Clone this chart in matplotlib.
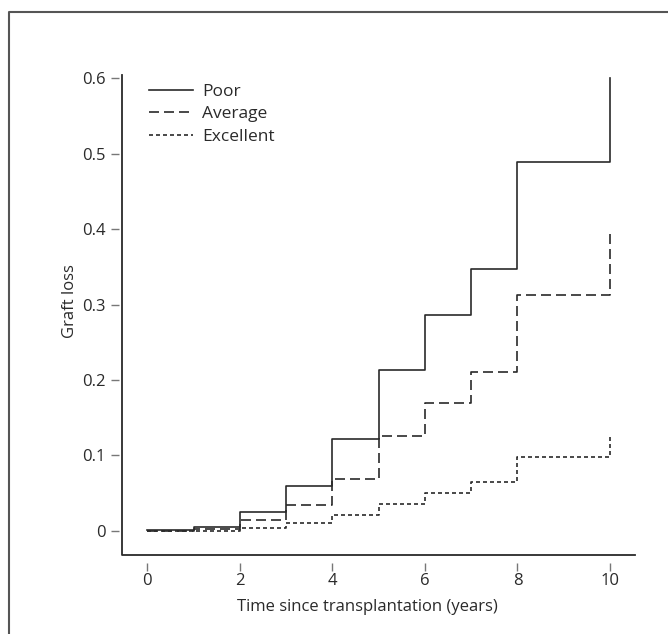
import matplotlib
matplotlib.use('Agg')
import matplotlib.pyplot as plt
from matplotlib.lines import Line2D

# Cumulative graft loss at the start of each yearly interval (step function)
years = [0, 1, 2, 3, 4, 5, 6, 7, 8, 10]
poor = [0.001, 0.005, 0.025, 0.060, 0.122, 0.213, 0.286, 0.347, 0.489, 0.600]
average = [0.000, 0.002, 0.014, 0.034, 0.069, 0.126, 0.170, 0.211, 0.312, 0.400]
excellent = [0.000, 0.000, 0.004, 0.010, 0.021, 0.036, 0.050, 0.065, 0.098, 0.124]
labels = ['Poor', 'Average', 'Excellent']
x_ticks = [0, 2, 4, 6, 8, 10]
y_ticks = [0, 0.1, 0.2, 0.3, 0.4, 0.5, 0.6]

plt.rcParams['font.family'] = ['Open Sans', 'DejaVu Sans']
ink = '#2a2a2a'
tick_grey = '#777777'
fs = 12

fig = plt.figure(figsize=(6.68, 6.34), dpi=100)
ax = fig.add_axes([122 / 668, 79 / 634, 513 / 668, 480 / 634])

lw = 1.2
styles = ['-', (0, (6.0, 3.0)), (0, (2.4, 1.8))]
for vals, lab, ls in zip([poor, average, excellent], labels, styles):
    ax.step(years, vals, where='post', color=ink, lw=lw, linestyle=ls, label=lab)

ax.set_xlim(-0.547, 10.54)
ax.set_ylim(-0.0318, 0.604)
ax.set_xticks(x_ticks)
ax.set_xticklabels([str(t) for t in x_ticks])
ax.set_yticks(y_ticks)
ax.set_yticklabels(['0'] + [f'{t:.1f}' for t in y_ticks[1:]])

# L-shaped box, ticks hang detached from it
for s in ['top', 'right', 'left', 'bottom']:
    ax.spines[s].set_visible(False)
ax.spines['left'].set_position(('outward', 2.5))
ax.spines['bottom'].set_position(('outward', 6))
ax.add_line(Line2D([0, 0, 1], [1, 0, 0], transform=ax.transAxes,
                   color=ink, lw=1.3, clip_on=False))
ax.tick_params(axis='both', direction='out', length=5.5, width=1.0,
               color=tick_grey, labelcolor=ink, labelsize=fs)
ax.tick_params(axis='y', pad=4.0)
ax.tick_params(axis='x', pad=1.5)

ax.set_xlabel('Time since transplantation (years)', fontsize=fs, color=ink)
ax.set_ylabel('Graft loss', fontsize=fs, color=ink)
ax.xaxis.set_label_coords(0.478, -0.092)
ax.yaxis.set_label_coords(-0.085, 0.53)

leg = ax.legend(loc='upper left', bbox_to_anchor=(0.053, 0.982), frameon=False,
                borderaxespad=0, borderpad=0, handlelength=2.5,
                handletextpad=0.55, labelspacing=0.36, fontsize=12.5)
for t in leg.get_texts():
    t.set_color(ink)

# outer panel frame (left and top edges only)
fig.add_artist(Line2D([9 / 668, 9 / 668, 1], [0, 1 - 12 / 634, 1 - 12 / 634],
                      transform=fig.transFigure, color='#555555', lw=1.5))

fig.savefig('out.png', dpi=100)
